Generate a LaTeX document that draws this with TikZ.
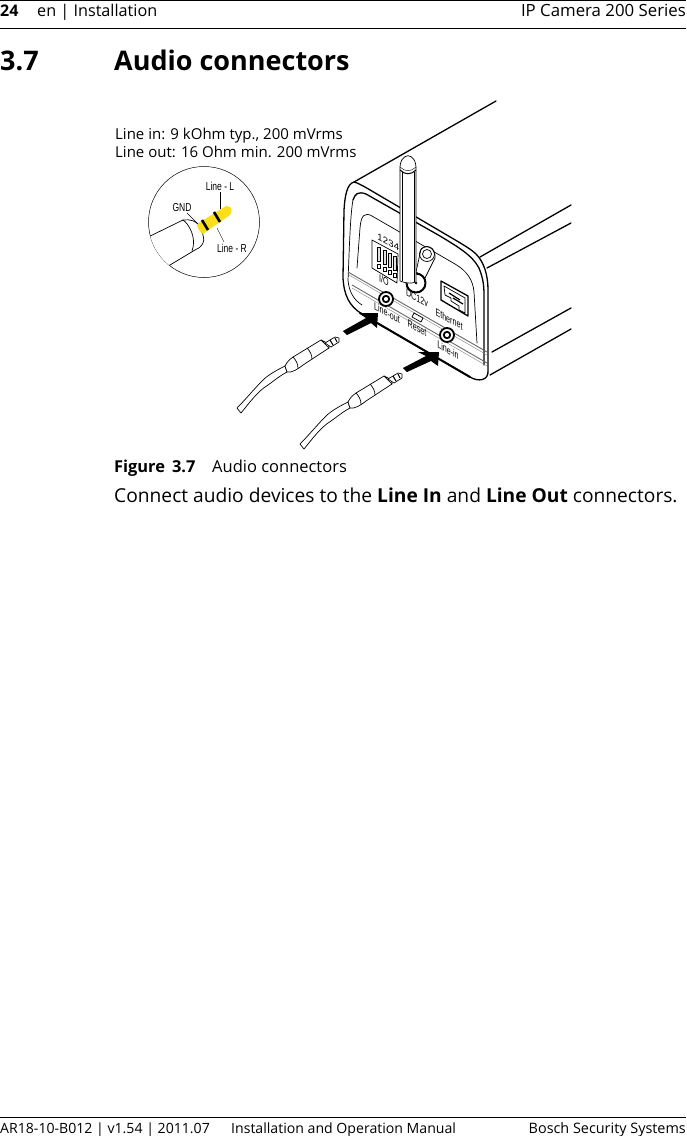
\documentclass[tikz,border=0pt]{standalone}
\usepackage{fontspec}
\usepackage{graphicx}
\setmainfont{Open Sans}
\newfontfamily\narrowf{Liberation Sans}
\definecolor{plugy}{RGB}{250,222,30}
\newcommand{\nar}[1]{\scalebox{.74}[1]{#1}}
\newcommand{\narp}[1]{\scalebox{.68}[1]{#1}}
\tikzset{
  body/.style={line width=1.3pt,line cap=round,line join=round},
  heavy/.style={line width=2pt,line cap=round,line join=round},
  thin/.style={line width=.7pt,line cap=round,line join=round},
  greyl/.style={line width=.9pt,draw=black!60},
  pagetxt/.style={anchor=base west,inner sep=0pt,font=\fontsize{16.5}{18}\selectfont},
  spectxt/.style={anchor=base west,inner sep=0pt,font=\fontsize{15}{18}\selectfont},
  foottxt/.style={anchor=base west,inner sep=0pt,font=\fontsize{14.1}{18}\selectfont},
  headb/.style={anchor=base west,inner sep=0pt,font=\bfseries\fontsize{27}{30}\selectfont},
  tiny/.style={inner sep=0pt,font=\narrowf\fontsize{11.5}{12}\selectfont},
  panel/.style={inner sep=0pt,cm={1,-.55,0,1,(0,0)},font=\narrowf\fontsize{10.5}{12}\selectfont},
  digit/.style={inner sep=0pt,cm={1,-.55,0,1,(0,0)},font=\narrowf\fontsize{9.5}{11}\selectfont},
  arrowbig/.style={fill=black,draw=none}
}
\newcommand{\jackplug}[2]{%
  \begin{scope}[shift={(#1,#2)}]
  \draw[thin,fill=white] (237,408)--(241,413) .. controls (250,402) and (258,391) .. (268,385) .. controls (275,380) and (281,375) .. (287,372)--(285,366) .. controls (277,370) and (268,375) .. (263,380) .. controls (254,389) and (246,399) .. (237,408)--cycle;
  \draw[thin,fill=white] (285,366) .. controls (287,362) and (289,360) .. (293,357) -- (321,340) -- (329,348) -- (303,365) .. controls (298,369) and (292,373) .. (287,372) -- cycle;
  \draw[thin] (293,357) .. controls (296,360) and (298,364) .. (298,368);
  \draw[thin] (307,348) .. controls (310,351) and (312,355) .. (312,359);
  \draw[thin,fill=white] (321,340)--(325,342)--(329,343)--(329,348)--cycle;
  \draw[thin,fill=white] (325,343)--(335,337)--(339,338)--(339,342)--(331,347)--cycle;
  \draw[line width=1.1pt] (330,340)--(333,345);
  \draw[line width=1.1pt] (335,338)--(337,342);
  \end{scope}}
\begin{document}
\begin{tikzpicture}[x=1pt,y=-1pt]
\useasboundingbox (0,0) rectangle (686,1136);
\fill[white] (0,0) rectangle (686,1136);
% page furniture
\draw[line width=.7pt] (0,0.5)--(686,0.5) (0,28)--(686,28) (0,1117.5)--(686,1117.5);
\node[pagetxt,font=\bfseries\fontsize{16}{18}\selectfont] (pagenum) at (0,16) {24};
\node[pagetxt,font=\fontsize{16.2}{18}\selectfont] (headl) at (37,16) {en | Installation};
\node[pagetxt,anchor=base east,font=\fontsize{16.8}{18}\selectfont] (headr) at (686,16) {IP Camera 200 Series};
\node[headb] (secnum) at (0,70) {3.7};
\node[headb] (sectitle) at (114,70) {Audio connectors};
\node[spectxt] (spec1) at (115,139) {Line in: 9 kOhm typ., 200 mVrms};
\node[spectxt] (spec2) at (115,157) {Line out: 16 Ohm min. 200 mVrms};
\node[pagetxt,font=\bfseries\fontsize{16.4}{18}\selectfont] (figl) at (114,472) {Figure\, 3.7};
\node[pagetxt] (figc) at (212,472) {Audio connectors};
\node[pagetxt,font=\fontsize{19.2}{20}\selectfont] (body) at (114,502) {Connect audio devices to the \textbf{Line In} and \textbf{Line Out} connectors.};
\node[foottxt] (footl) at (0,1133) {AR18-10-B012 | v1.54 | 2011.07};
\node[foottxt] (footm) at (231,1133) {Installation and Operation Manual};
\node[foottxt,anchor=base east,font=\fontsize{14.4}{18}\selectfont] (footr) at (686,1133) {Bosch Security Systems};
% inset
\draw[line width=.5pt] (204,222) circle (55.5);
\begin{scope}
\clip (204,222) circle (55.5);
\draw[thin,fill=white] (140,241)--(183,220) .. controls (190,219) and (197,221) .. (199,226) .. controls (203,233) and (205,240) .. (203,243) .. controls (201,247) and (198,249) .. (195,250) -- (160,271) -- (140,280)--cycle;
\draw[thin] (183,220) .. controls (189,224) and (197,238) .. (192,251);
\end{scope}
\fill[plugy] (197,224)--(226,206) .. controls (232,205) and (233,212) .. (230,215) -- (203,234) .. controls (200,232) and (197,228) .. (197,224)--cycle;
\draw[line width=2.6pt] (202,220)--(208,230);
\draw[line width=2.6pt] (214,212)--(220,222);
\node[tiny] (lineL) at (220,186) {\nar{Line - L}};
\node[tiny] (gnd) at (182,208) {\nar{GND}};
\node[tiny] (lineR) at (232,248) {\nar{Line - R}};
\draw[line width=.4pt] (220,192)--(220,209);
\draw[line width=.4pt] (187,213)--(198,224);
\draw[line width=.4pt] (217,228)--(224,242);
% camera
\draw[body] (354,182)--(496,101);
\draw[body] (480,257)--(571,205);
\draw[body] (487,268)--(571,223);
\draw[body] (492,352)--(571,308);
\draw[body] (490,375)--(571,329);
\draw[body] (354,182) .. controls (347,184) and (345,195) .. (344,210) -- (343,278) .. controls (344,295) and (349,306) .. (362,314) -- (470,377) .. controls (478,382) and (489,381) .. (488,370) -- (488,290) .. controls (488,275) and (484,262) .. (476,254) .. controls (470,248) and (455,240) .. (440,231) -- (365,187) .. controls (361,185) and (358,183) .. (354,182) -- cycle;
\draw[heavy] (360,313)--(470,377);
\draw[thin] (353,200) .. controls (350,215) and (349,260) .. (348,280) .. controls (349,292) and (354,300) .. (362,305);
\draw[body] (353,200) .. controls (355,194) and (358,191) .. (366,194) -- (440,236) .. controls (458,247) and (472,255) .. (479,268) .. controls (483,278) and (484,285) .. (484,295) -- (484,365);
\draw[thin] (357,268) -- (360,228) .. controls (361,215) and (365,212) .. (372,216) -- (455,264) .. controls (467,271) and (473,280) .. (474,292) -- (477,343);
\draw[greyl] (348,272)--(487,352);
\draw[greyl] (352,285)--(487,363);
\draw[line width=.4pt,draw=black!50] (349,275)--(487,355) (352,288)--(487,366);
% DIP switch
\draw[thin,fill=white] (372,240)--(398,254)--(397,283)--(372,268)--cycle;
\foreach \i in {0,1,2,3}{
  \draw[line width=.7pt,fill=black!12] ({377.5+5.4*\i},{247+3*\i}) rectangle +(3,14);
  \draw[line width=.5pt,fill=white] ({377.5+5.4*\i},{264.5+3*\i}) rectangle +(3,3.5);
}
\node[digit] (dipa) at (380,237.5) {1};
\node[digit] (dipb) at (385.5,240.5) {2};
\node[digit] (dipc) at (391,243.5) {3};
\node[digit] (dipd) at (396.5,246.5) {4};
\node[panel] (io) at (384,280) {\narp{I/O}};
% BNC
\draw[thin,fill=white] (416,272) -- (421,249) .. controls (428,243) and (436,250) .. (435,258) -- (425,278) -- cycle;
\draw[thin] (427,254) circle (7.5);
\draw[thin] (427,254) circle (4.5);
% DC
\draw[heavy,fill=white] (416,283) circle (9.5);
\fill (416,283) circle (1.3);
\node[panel] (dc) at (417,298) {\narp{DC12v}};
% Ethernet
\draw[body,fill=white] (441,281)--(468,296)--(468,316)--(441,300)--cycle;
\draw[thin] (444,286)--(465,298)--(465,313)--(459,310)--(459,306)--(451,301)--(451,298)--(445,295)--cycle;
\draw[line width=1.2pt] (449,293)--(460,300);
\draw[line width=1.2pt] (453,298)--(463,304);
\node[panel] (eth) at (449,319) {\narp{Ethernet}};
% jacks
\foreach \p/\q in {386/299,447/335}{
  \draw[line width=1.8pt,fill=white] (\p,\q) circle (7);
  \draw[line width=1.8pt] (\p,\q) circle (3.2);
}
\node[panel] (lo) at (387,313) {\narp{Line-out}};
\node[panel] (li) at (448,350) {\narp{Line-in}};
\node[panel] (rs) at (417,328) {\narp{Reset}};
\draw[thin,fill=white] (414,313)--(423,318)--(421,322)--(412,317)--cycle;
% antenna
\draw[thin,fill=white] (400,170) .. controls (399,151) and (417,151) .. (416,170) -- (416,282) .. controls (411,284) and (405,283) .. (400,281) -- cycle;
\draw[line width=.4pt] (402,172)--(402,281) (414,172)--(414,282);
\draw[line width=1pt] (400,170) .. controls (405,175) and (411,175) .. (416,170);
\draw[line width=.4pt] (400,167) .. controls (405,172) and (411,172) .. (416,167);
% arrows
\fill[arrowbig] (343,331)--(366,318)--(359,313)--(378,313)--(377,328)--(371,323)--(347,335)--cycle;
\fill[arrowbig] (403,368)--(426,356)--(418,352)--(439,352)--(438,366)--(431,361)--(407,372)--cycle;
% plugs
\jackplug{0}{0}
\jackplug{63}{36}
\end{tikzpicture}
\end{document}
